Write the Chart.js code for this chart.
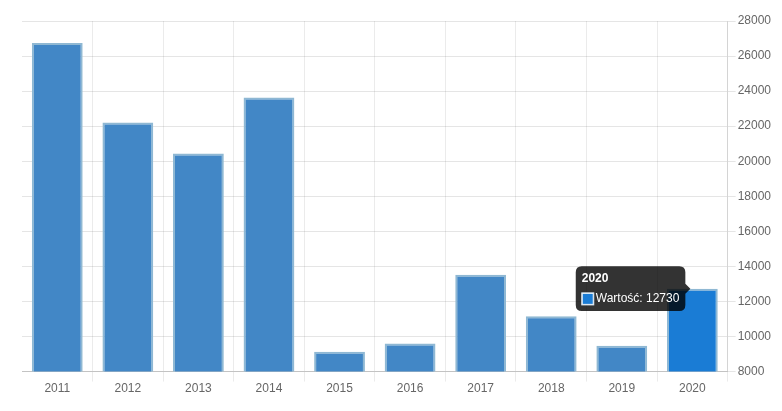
<!DOCTYPE html>
<html>
<head>
<meta charset="utf-8">
<script src="https://cdn.jsdelivr.net/npm/chart.js@4.4.0/dist/chart.umd.min.js"></script>
<style>
  html, body { margin: 0; padding: 0; background: #fff; }
  #wrap { width: 782px; height: 411px; }
</style>
</head>
<body>
<div id="wrap"><canvas id="chart"></canvas></div>
<script>
// dane
const years = ['2011', '2012', '2013', '2014', '2015', '2016', '2017', '2018', '2019', '2020'];
const values = [26740, 22210, 20440, 23640, 9130, 9600, 13520, 11160, 9470, 12730];
const yTicks = { min: 8000, max: 28000, step: 2000 };
const seriesLabel = 'Wartość';
const activeIndex = 9; // słupek z dymkiem

Chart.defaults.font.family = '"Liberation Sans", Arial, sans-serif';
Chart.defaults.font.size = 12;
Chart.defaults.color = '#666';

const ctx = document.getElementById('chart').getContext('2d');
const chart = new Chart(ctx, {
    type: 'bar',
    data: {
        labels: years,
        datasets: [{
            label: seriesLabel,
            data: values,
            backgroundColor: '#4287c6',
            borderColor: '#8fb8d3',
            borderWidth: 2,
            hoverBackgroundColor: '#1a7cd5',
            hoverBorderColor: '#8fb8d3',
            hoverBorderWidth: 2
        }]
    },
    options: {
        responsive: true,
        maintainAspectRatio: false,
        animation: false,
        layout: { padding: { left: 22, right: 9, top: 21, bottom: 15 } },
        plugins: {
            legend: { display: false },
            tooltip: {
                backgroundColor: 'rgba(0,0,0,0.8)',
                titleFont: { weight: 'bold', size: 12 },
                bodyFont: { size: 12 },
                padding: { x: 6, y: 5 },
                cornerRadius: 6,
                callbacks: {
                    label: (c) => `${seriesLabel}: ${c.raw}`,
                    labelColor: () => ({ borderColor: '#d8e8f5', backgroundColor: '#1a7cd5', borderWidth: 1 })
                }
            }
        },
        scales: {
            x: {
                grid: {
                    color: (c) => c.index === 0 ? 'rgba(0,0,0,0)' : 'rgba(0,0,0,0.08)',
                    tickLength: 10
                },
                border: { color: 'rgba(0,0,0,0.15)' },
                ticks: { padding: 0 }
            },
            y: {
                position: 'right',
                min: yTicks.min,
                max: yTicks.max,
                grid: { color: 'rgba(0,0,0,0.1)', tickLength: 8 },
                border: { color: 'rgba(0,0,0,0.1)' },
                ticks: { stepSize: yTicks.step, padding: 2, callback: (v) => String(v) }
            }
        }
    }
});

// podświetlenie słupka i dymek jak na zrzucie
const active = [{ datasetIndex: 0, index: activeIndex }];
chart.setActiveElements(active);
const el = chart.getDatasetMeta(0).data[activeIndex];
chart.tooltip.setActiveElements(active, { x: el.x, y: el.y });
chart.update();
</script>
</body>
</html>
